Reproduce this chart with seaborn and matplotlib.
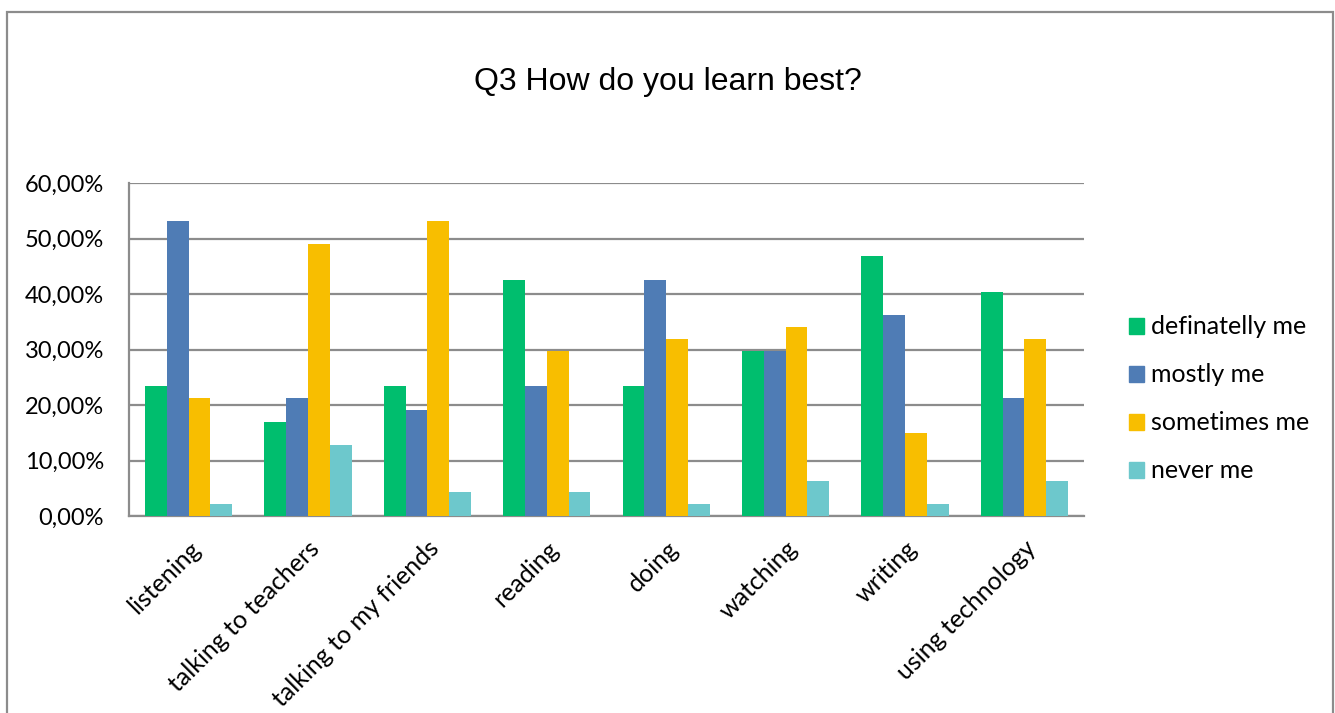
import matplotlib
matplotlib.use("Agg")
import matplotlib.pyplot as plt
import matplotlib.patches as mpatches
from matplotlib.ticker import FuncFormatter, MultipleLocator
import seaborn as sns
import pandas as pd

categories = ["listening", "talking to teachers", "talking to my friends", "reading",
              "doing", "watching", "writing", "using technology"]
series = ["definatelly me", "mostly me", "sometimes me", "never me"]
definatelly_me = [23.40, 17.02, 23.40, 42.55, 23.40, 29.79, 46.81, 40.43]
mostly_me = [53.19, 21.28, 19.15, 23.40, 42.55, 29.79, 36.17, 21.28]
sometimes_me = [21.28, 48.94, 53.19, 29.79, 31.91, 34.04, 14.89, 31.91]
never_me = [2.13, 12.77, 4.26, 4.26, 2.13, 6.38, 2.13, 6.38]
colors = ["#00BE6E", "#4F7CB5", "#F8BE00", "#6DC8CC"]

rows = []
for name, vals in zip(series, [definatelly_me, mostly_me, sometimes_me, never_me]):
    for cat, v in zip(categories, vals):
        rows.append({"category": cat, "series": name, "value": v})
df = pd.DataFrame(rows)

sns.set_theme(style="white")
plt.rcParams["font.family"] = ["Lato", "DejaVu Sans"]
plt.rcParams["text.color"] = "black"
plt.rcParams["xtick.color"] = "black"
plt.rcParams["ytick.color"] = "black"

W, H = 1335, 713
fig = plt.figure(figsize=(W / 100, H / 100), dpi=100)
ax = fig.add_axes([129 / W, 1 - 516 / H, (1084 - 129) / W, (516 - 183) / H])

sns.barplot(data=df, x="category", y="value", hue="series", order=categories,
            hue_order=series, palette=colors, width=0.73, gap=0, saturation=1,
            edgecolor="none", linewidth=0, ax=ax, zorder=3)

grid_c = "#8C8C8C"
ax.set_ylim(0, 60)
ax.set_xlim(-0.5, len(categories) - 0.5)
ax.yaxis.set_major_locator(MultipleLocator(10))
ax.yaxis.set_major_formatter(FuncFormatter(lambda v, p: f"{v:.2f}%".replace(".", ",")))
ax.grid(axis="y", color=grid_c, linewidth=1.6, zorder=0)
ax.set_axisbelow(True)
for s in ["top", "right"]:
    ax.spines[s].set_visible(False)
for s in ["left", "bottom"]:
    ax.spines[s].set_color(grid_c)
    ax.spines[s].set_linewidth(1.6)

ax.set_xticks([i + 0.5 for i in range(-1, len(categories))], minor=True)
ax.tick_params(axis="x", which="minor", length=8, width=1.6, color=grid_c, direction="out")
ax.tick_params(axis="x", which="major", length=0, pad=15, labelcolor="black")
ax.tick_params(axis="y", length=8, width=1.6, color=grid_c, labelsize=17, pad=10,
               labelcolor="black")
ax.set_xlabel("")
ax.set_ylabel("")
for lab in ax.get_xticklabels():
    lab.set_rotation(45)
    lab.set_ha("right")
    lab.set_va("top")
    lab.set_rotation_mode("anchor")
    lab.set_fontsize(18)

handles = [mpatches.Patch(color=c, label=s) for c, s in zip(colors, series)]
if ax.get_legend():
    ax.get_legend().remove()
fig.legend(handles=handles, loc="upper left", bbox_to_anchor=(1106 / W, 1 - 293 / H),
           frameon=False, fontsize=18, handlelength=0.6, handleheight=0.6,
           handletextpad=0.3, labelspacing=1.0, labelcolor="black")

fig.text(668 / W, 1 - 82 / H, "Q3 How do you learn best?", ha="center", va="center",
         fontsize=23, color="black", family=["Liberation Sans", "DejaVu Sans"])

fig.patches.append(mpatches.Rectangle((7 / W, -0.05), (1333 - 7) / W, 1.05 - 12 / H,
                                      transform=fig.transFigure, fill=False,
                                      edgecolor="#8C8C8C", linewidth=1.6))

fig.savefig("out.png", dpi=100)
